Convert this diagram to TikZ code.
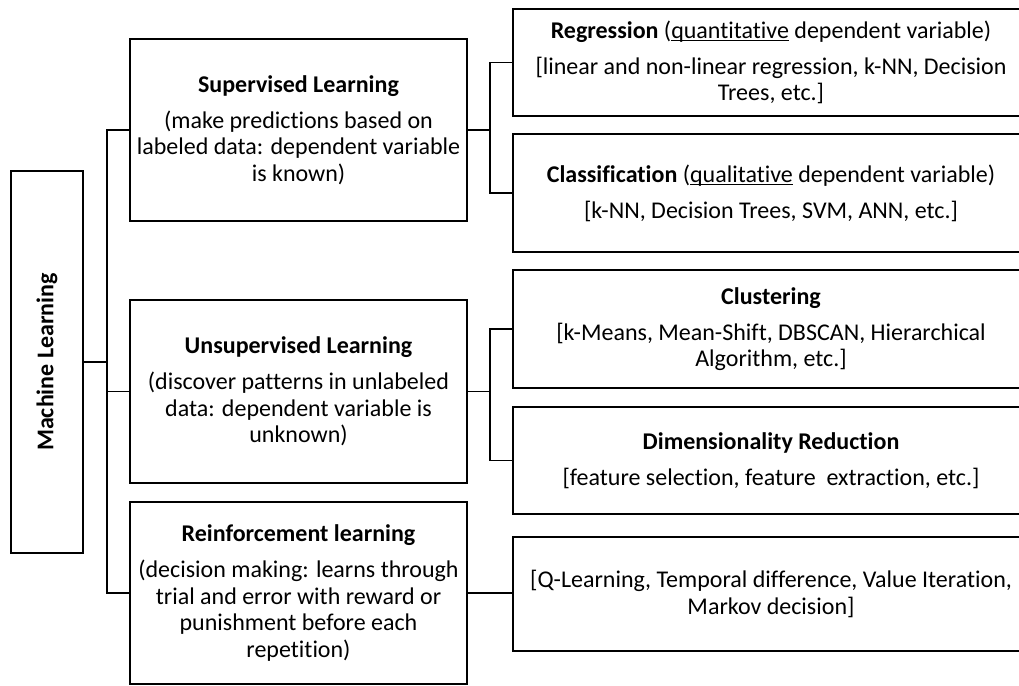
\documentclass[tikz,border=0pt]{standalone}
\usepackage{fontspec}
\setmainfont{Carlito}[Ligatures=NoCommon]
\newcommand\myul[1]{\setbox0\hbox{#1}\rlap{\rule[-2.2pt]{\wd0}{0.8pt}}#1}
\begin{document}
\begin{tikzpicture}[x=0.75pt,y=-0.75pt,
  box/.style={draw,line width=1.1pt,rectangle,align=center,inner sep=0pt,
    font=\fontsize{18}{20}\selectfont},
  conn/.style={line width=1.1pt}]
\useasboundingbox (0,0) rectangle (1019,685);
% root
\node[box,minimum width=54pt,minimum height=286.5pt] (ml) at (47,362)
  {\rotatebox{90}{\textbf{Machine Learning}}};
% middle column
\node[box,minimum width=252.75pt,minimum height=136.5pt] (sup) at (298.5,130)
  {\textbf{Supervised Learning}\\[7pt](make predictions based on\\labeled data: dependent variable\\is known)};
\node[box,minimum width=252.75pt,minimum height=137.25pt] (uns) at (298.5,391.5)
  {\textbf{Unsupervised Learning}\\[7pt](discover patterns in unlabeled\\data: dependent variable is\\unknown)};
\node[box,minimum width=252.75pt,minimum height=136.5pt] (rl) at (298.5,593)
  {\textbf{Reinforcement learning}\\[7pt](decision making: learns through\\trial and error with reward or\\punishment before each\\repetition)};
% right column
\node[box,minimum width=387pt,minimum height=80.25pt] (reg) at (771,62.5)
  {\textbf{Regression} (\myul{quantitative} dependent variable)\\[7pt][linear and non-linear regression, k-NN, Decision\\Trees, etc.]};
\node[box,minimum width=387pt,minimum height=88.5pt] (cls) at (771,193)
  {\textbf{Classification} (\myul{qualitative} dependent variable)\\[7pt][k-NN, Decision Trees, SVM, ANN, etc.]};
\node[box,minimum width=387pt,minimum height=88.5pt] (clu) at (771,329)
  {\textbf{Clustering}\\[7pt][k-Means, Mean-Shift, DBSCAN, Hierarchical\\Algorithm, etc.]};
\node[box,minimum width=387pt,minimum height=80.25pt] (dim) at (771,460.5)
  {\textbf{Dimensionality Reduction}\\[7pt][feature selection, feature\ \ extraction, etc.]};
\node[box,minimum width=387pt,minimum height=85.5pt] (rlm) at (771,594)
  {[Q-Learning, Temporal difference, Value Iteration,\\Markov decision]};
% connectors
\coordinate (s) at (107,0);
\coordinate (t) at (490,0);
\draw[conn] (ml.east) -- (ml.east -| s);
\draw[conn] (sup.west) -- (sup.west -| s) -- (rl.west -| s) -- (rl.west);
\draw[conn] (uns.west) -- (uns.west -| s);
\draw[conn] (sup.east) -- (sup.east -| t);
\draw[conn] (reg.west) -- (reg.west -| t) -- (cls.west -| t) -- (cls.west);
\draw[conn] (uns.east) -- (uns.east -| t);
\draw[conn] (clu.west) -- (clu.west -| t) -- (dim.west -| t) -- (dim.west);
\draw[conn] (rl.east) -- (rl.east -| rlm.west);
\end{tikzpicture}
\end{document}
